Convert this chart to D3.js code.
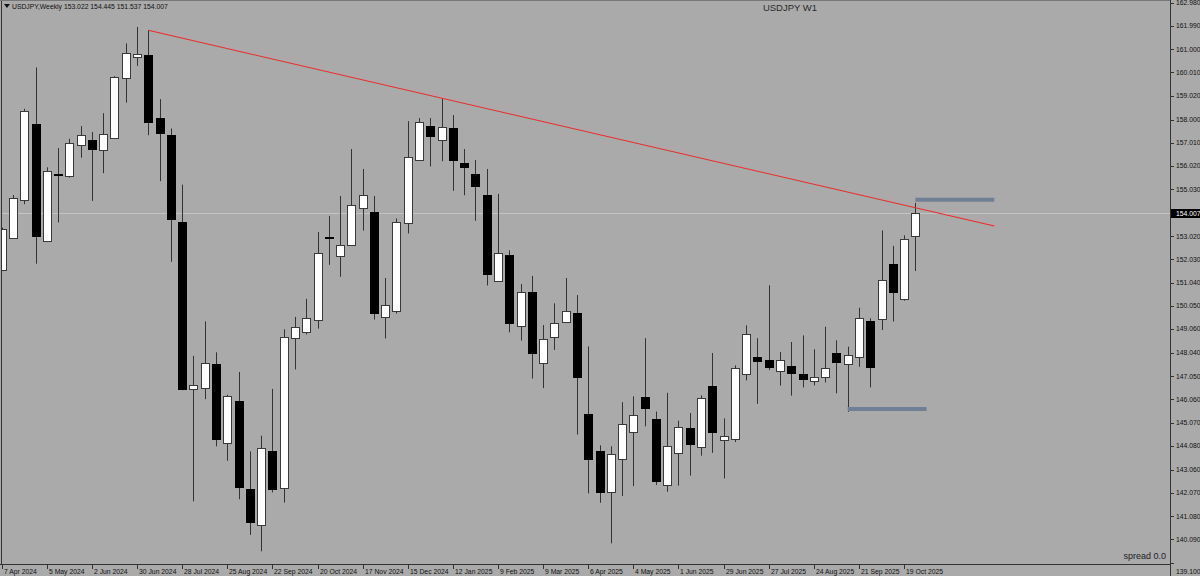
<!DOCTYPE html>
<html>
<head>
<meta charset="utf-8">
<script src="https://cdn.jsdelivr.net/npm/d3@7/dist/d3.min.js"></script>
<style>
  body { margin: 0; background: #aaaaaa; }
  svg { display: block; }
  text { font-family: "Liberation Sans", Arial, sans-serif; fill: #111; }
</style>
</head>
<body>
<svg id="chart" width="1200" height="576"></svg>
<script>
// weekly candles, first bar = week of 7 Apr 2024
var opens  = [151.60,152.98,154.55,157.81,152.80,155.68,155.58,156.91,157.12,156.71,157.21,159.76,160.66,160.75,158.06,157.35,
              153.64,146.50,146.53,147.57,144.18,146.00,142.24,140.70,143.84,142.27,148.70,148.97,149.45,152.99,152.18,152.62,
              154.23,154.06,149.54,149.86,153.61,156.25,157.72,157.12,157.65,156.15,155.69,154.77,151.13,152.20,149.19,150.66,
              147.60,148.75,149.38,149.73,145.43,143.87,142.09,143.50,144.66,146.16,145.21,142.44,143.77,144.84,143.99,146.64,
              144.32,144.38,147.16,147.85,147.73,147.28,147.48,147.16,146.85,147.00,148.06,147.57,147.88,149.42,149.51,151.82,
              150.35,153.022];
var highs  = [153.39,154.78,158.46,160.22,155.96,156.78,157.18,157.72,157.47,158.27,159.85,161.25,161.95,161.81,158.87,157.62,
              155.22,147.92,149.39,148.07,146.26,147.23,143.84,144.51,146.51,149.05,149.58,150.35,153.20,153.89,154.74,156.74,
              155.89,154.74,151.24,153.78,157.93,158.06,158.06,158.90,158.19,156.74,156.27,155.89,154.83,152.42,150.98,151.33,
              149.23,150.16,151.24,150.51,148.32,144.10,144.06,145.94,146.19,148.67,145.54,146.34,145.15,145.48,146.23,148.04,
              145.25,147.51,149.22,148.67,150.93,148.08,148.51,148.79,148.20,149.16,148.58,148.31,149.97,149.52,153.27,152.61,
              153.06,154.445];
var lows   = [151.55,152.95,154.39,151.85,152.77,153.61,155.52,156.37,154.53,155.71,157.18,158.72,160.29,157.33,155.37,151.93,
              146.45,141.71,146.07,144.06,143.44,141.80,140.28,139.58,142.09,141.66,147.34,148.83,149.08,151.80,151.29,152.61,
              153.26,149.47,148.66,149.72,153.14,156.24,156.00,156.22,154.96,154.77,153.68,150.92,151.10,148.92,148.57,146.95,
              146.54,148.17,149.36,144.56,142.05,141.65,139.92,141.94,142.36,144.91,142.41,142.12,142.38,142.81,143.66,143.78,
              142.69,144.24,146.87,145.87,147.31,146.65,146.22,146.57,146.66,146.78,146.32,145.53,147.45,146.57,149.02,149.38,
              150.27,151.537];
var closes = [153.33,154.67,158.35,153.04,155.80,155.64,157.00,157.33,156.75,157.38,159.82,160.84,160.78,157.88,157.44,153.76,
              146.53,146.66,147.61,144.37,146.20,142.33,140.84,143.97,142.21,148.72,149.16,149.55,152.32,152.93,152.64,154.34,
              154.80,149.76,150.07,153.64,156.41,157.88,157.31,157.66,156.28,155.97,155.19,151.39,152.32,149.29,150.63,148.06,
              148.64,149.33,149.85,146.98,143.53,142.11,143.71,145.00,145.38,145.68,142.58,144.09,144.87,144.15,146.10,144.66,
              144.51,147.42,148.85,147.67,147.44,147.76,147.19,146.95,147.03,147.39,147.67,147.97,149.55,147.47,151.17,150.63,
              152.89,154.007];

// one label every 4 bars
var xLabels = ["7 Apr 2024","5 May 2024","2 Jun 2024","30 Jun 2024","28 Jul 2024","25 Aug 2024","22 Sep 2024",
               "20 Oct 2024","17 Nov 2024","15 Dec 2024","12 Jan 2025","9 Feb 2025","9 Mar 2025","6 Apr 2025",
               "4 May 2025","1 Jun 2025","29 Jun 2025","27 Jul 2025","24 Aug 2025","21 Sep 2025","19 Oct 2025"];
var yTicks = ["162.980","161.990","161.000","160.010","159.020","158.000","157.010","156.020","155.030",
              "153.020","152.030","151.040","150.050","149.060","148.040","147.050","146.060","145.070",
              "144.080","143.060","142.070","141.080","140.090","139.100"];

// trend line (bar index, price) and two horizontal levels
var trendBars = [13, 88];
var trendPrices = [161.805, 153.457];
var levelPrices = [154.58, 145.65];
var levelFrom = [81, 75];
var levelTo = [88, 82];

var W = 1200, H = 576;
var plotRight = 1170, plotBottom = 564;

var svg = d3.select("#chart");

svg.append("rect").attr("width", W).attr("height", H).attr("fill", "#aaaaaa");

var x = d3.scaleLinear().domain([0, 88]).range([1.67, 994.3]);
var y = d3.scaleLinear().domain([139.038, 163.099]).range([plotBottom, 0]);

svg.append("clipPath").attr("id", "plotclip")
    .append("rect").attr("x", 1).attr("y", 0).attr("width", plotRight - 1).attr("height", plotBottom);

var plot = svg.append("g").attr("clip-path", "url(#plotclip)");

var lastClose = closes[closes.length - 1];

// current price line
plot.append("line")
    .attr("x1", 0).attr("x2", plotRight)
    .attr("y1", Math.round(y(lastClose)) + 0.5).attr("y2", Math.round(y(lastClose)) + 0.5)
    .attr("stroke", "#c4c4c4").attr("stroke-width", 1);

var bars = d3.range(opens.length);

// wicks
plot.selectAll(".wick").data(bars).enter().append("line")
    .attr("class", "wick")
    .attr("x1", function(i) { return Math.round(x(i)) + 0.5; })
    .attr("x2", function(i) { return Math.round(x(i)) + 0.5; })
    .attr("y1", function(i) { return y(highs[i]); })
    .attr("y2", function(i) { return y(lows[i]); })
    .attr("stroke", "#333333").attr("stroke-width", 1);

// bodies
plot.selectAll(".body").data(bars).enter().append("rect")
    .attr("class", "body")
    .attr("x", function(i) { return Math.round(x(i)) - 3.5; })
    .attr("width", 8)
    .attr("y", function(i) { return Math.round(y(Math.max(opens[i], closes[i]))) + 0.5; })
    .attr("height", function(i) { return Math.max(1, Math.round(Math.abs(y(opens[i]) - y(closes[i])))); })
    .attr("fill", function(i) { return closes[i] >= opens[i] ? "#ffffff" : "#000000"; })
    .attr("stroke", function(i) { return closes[i] >= opens[i] ? "#3a3a3a" : "#000000"; })
    .attr("stroke-width", 1);

// trend line
plot.append("line")
    .attr("x1", x(trendBars[0])).attr("y1", y(trendPrices[0]))
    .attr("x2", x(trendBars[1])).attr("y2", y(trendPrices[1]))
    .attr("stroke", "#ee2a2a").attr("stroke-width", 1.1);

// horizontal levels
plot.selectAll(".level").data(levelPrices).enter().append("line")
    .attr("class", "level")
    .attr("x1", function(d, k) { return x(levelFrom[k]); })
    .attr("x2", function(d, k) { return x(levelTo[k]); })
    .attr("y1", function(d) { return y(d); })
    .attr("y2", function(d) { return y(d); })
    .attr("stroke", "#6f7f95").attr("stroke-width", 4);

// frame
svg.append("line").attr("x1", 1.5).attr("x2", 1.5).attr("y1", 0).attr("y2", plotBottom)
    .attr("stroke", "#333").attr("stroke-width", 1);
svg.append("line").attr("x1", 0).attr("x2", plotRight).attr("y1", plotBottom + 0.5).attr("y2", plotBottom + 0.5)
    .attr("stroke", "#333").attr("stroke-width", 1);
svg.append("line").attr("x1", plotRight + 0.5).attr("x2", plotRight + 0.5).attr("y1", 0).attr("y2", H)
    .attr("stroke", "#333").attr("stroke-width", 1);
svg.append("line").attr("x1", 0).attr("x2", plotRight).attr("y1", 0.5).attr("y2", 0.5)
    .attr("stroke", "#777").attr("stroke-width", 1);

// y axis ticks
var yAxis = svg.append("g");
yAxis.selectAll(".ytick").data(yTicks).enter().append("line")
    .attr("x1", plotRight).attr("x2", plotRight + 4)
    .attr("y1", function(d) { return Math.round(y(+d)) + 0.5; })
    .attr("y2", function(d) { return Math.round(y(+d)) + 0.5; })
    .attr("stroke", "#333");
yAxis.selectAll(".ylab").data(yTicks).enter().append("text")
    .attr("x", plotRight + 6)
    .attr("y", function(d) { var v = y(+d); return v > 556 ? H - 4.5 : v; })
    .attr("dy", "0.35em")
    .attr("font-size", "6.8px")
    .text(function(d) { return d; });

// current price marker
var py = Math.round(y(lastClose));
svg.append("rect").attr("x", plotRight + 1).attr("y", py - 4).attr("width", W - plotRight - 1).attr("height", 9)
    .attr("fill", "#000");
svg.append("text").attr("x", plotRight + 6).attr("y", py + 0.5).attr("dy", "0.35em")
    .attr("font-size", "6.8px").style("fill", "#ffffff")
    .text(d3.format(".3f")(lastClose));

// x axis
var xAxis = svg.append("g");
xAxis.selectAll(".xtick").data(xLabels).enter().append("line")
    .attr("x1", function(d, k) { return Math.round(x(k * 4)) + 0.5; })
    .attr("x2", function(d, k) { return Math.round(x(k * 4)) + 0.5; })
    .attr("y1", plotBottom).attr("y2", plotBottom + 5)
    .attr("stroke", "#333");
xAxis.selectAll(".xlab").data(xLabels).enter().append("text")
    .attr("x", function(d, k) { return Math.round(x(k * 4)) + 2; })
    .attr("y", 573.5)
    .attr("font-size", "6.8px")
    .text(function(d) { return d; });

// header
svg.append("path").attr("d", "M4,4 L10,4 L7,8 Z").attr("fill", "#111");
svg.append("text").attr("x", 12).attr("y", 8.5).attr("font-size", "6.8px")
    .text("USDJPY,Weekly  " + d3.format(".3f")(opens[81]) + " " + d3.format(".3f")(highs[81]) + " " +
          d3.format(".3f")(lows[81]) + " " + d3.format(".3f")(lastClose));
svg.append("text").attr("x", 790).attr("y", 10.5).attr("text-anchor", "middle").attr("font-size", "9.5px")
    .style("fill", "#2a2a2a").text("USDJPY W1");
svg.append("text").attr("x", 1166).attr("y", 559).attr("text-anchor", "end").attr("font-size", "9px")
    .style("fill", "#222").text("spread 0.0");
</script>
</body>
</html>
